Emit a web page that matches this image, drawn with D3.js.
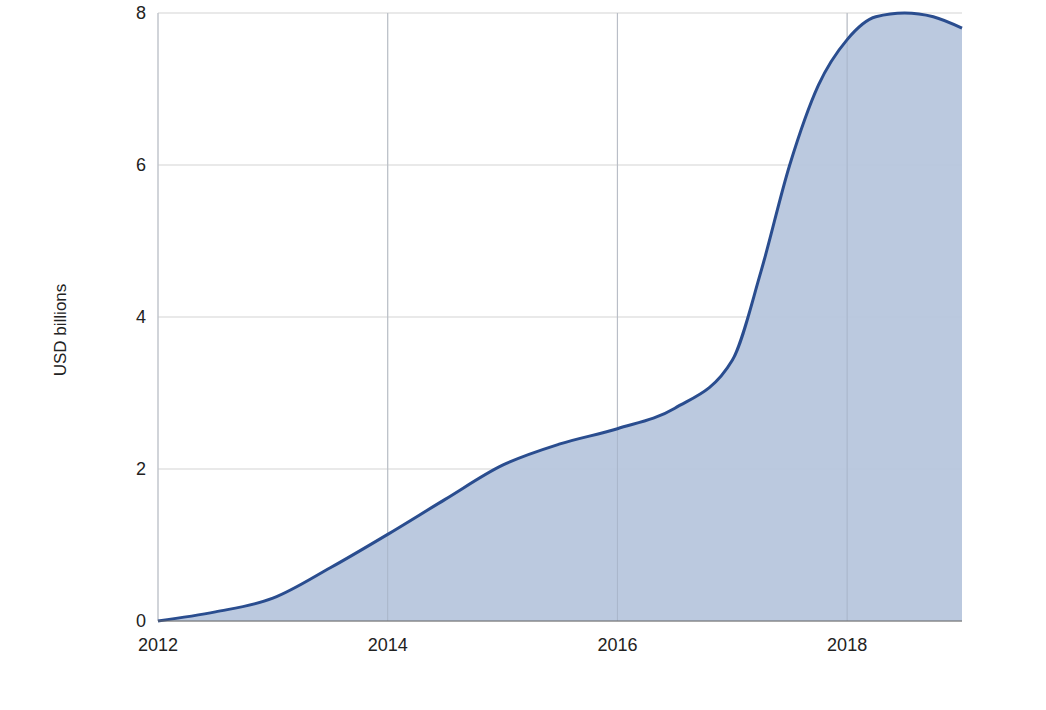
<!DOCTYPE html><html><head><meta charset="utf-8">
<script src="https://cdn.jsdelivr.net/npm/d3@7"></script>
<style>body{margin:0;background:#fff}text{font-family:"Liberation Sans",Arial,sans-serif;fill:#222}</style>
</head><body><svg id="c" width="1046" height="710"></svg><script>
const years=[2012,2012.5,2013,2013.5,2014,2014.5,2015,2015.5,2016,2016.5,2017,2017.25,2017.5,2017.75,2018,2018.25,2018.5,2018.75,2019];
const values=[0,0.12,0.3,0.7,1.14,1.6,2.05,2.33,2.53,2.8,3.43,4.6,6.0,7.05,7.65,7.95,8.0,7.95,7.8];
const xTicks=[2012,2014,2016,2018];
const yTicks=[0,2,4,6,8];
const svg=d3.select("#c");
const x=d3.scaleLinear().domain([2012,2019]).range([158,962]);
const y=d3.scaleLinear().domain([0,8]).range([621,13]);
const g=svg.append("g");
g.selectAll(".h").data(yTicks).join("line").attr("x1",158).attr("x2",962).attr("y1",d=>y(d)).attr("y2",d=>y(d)).attr("stroke","#d4d4d4").attr("stroke-width",1.2);
g.selectAll(".v").data(xTicks).join("line").attr("y1",13).attr("y2",621).attr("x1",d=>x(d)).attr("x2",d=>x(d)).attr("stroke","#d4d4d4").attr("stroke-width",1.2);
const area=d3.area().x((d,i)=>x(years[i])).y0(y(0)).y1(d=>y(d)).curve(d3.curveMonotoneX);
const line=d3.line().x((d,i)=>x(years[i])).y(d=>y(d)).curve(d3.curveMonotoneX);
svg.append("path").attr("d",area(values)).attr("fill","#b7c6dd").attr("opacity",0.95);
svg.selectAll(".v2").data(xTicks).join("line").attr("y1",13).attr("y2",621).attr("x1",d=>x(d)).attr("x2",d=>x(d)).attr("stroke","#9aa6b8").attr("stroke-opacity",0.5);
svg.append("path").attr("d",line(values)).attr("fill","none").attr("stroke","#2a4d8f").attr("stroke-width",3);
svg.append("line").attr("x1",158).attr("x2",962).attr("y1",621).attr("y2",621).attr("stroke","#666");
svg.selectAll(".yl").data(yTicks).join("text").attr("x",146).attr("y",d=>y(d)+6).attr("text-anchor","end").attr("font-size",18).text(d=>d);
svg.selectAll(".xl").data(xTicks).join("text").attr("x",d=>x(d)).attr("y",651).attr("text-anchor","middle").attr("font-size",18).text(d=>d);
svg.append("text").attr("transform","translate(66,330) rotate(-90)").attr("text-anchor","middle").attr("font-size",17).text("USD billions");
</script></body></html>
